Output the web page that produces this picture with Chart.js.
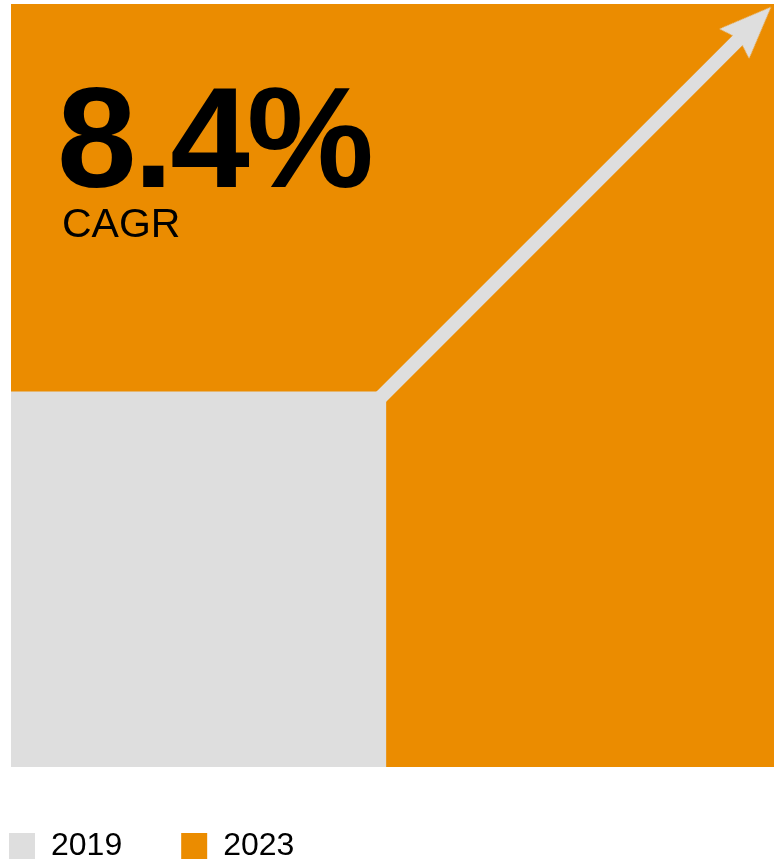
<!DOCTYPE html>
<html>
<head>
<meta charset="utf-8">
<script src="https://cdn.jsdelivr.net/npm/chart.js@4.4.1/dist/chart.umd.min.js"></script>
<style>
  body { margin: 0; background: #fff; }
  #wrap { width: 774px; height: 865px; }
</style>
</head>
<body>
<div id="wrap"><canvas id="myChart" width="774" height="865"></canvas></div>
<script>
// Data
const years = ['2019', '2023'];
const squareSide = [49.2, 100];          // side of each square, 2023 = 100
const colours = ['#dedede', '#eb8c00'];
const arrowFrom = [48, 48];
const arrowTo = [97.2, 97.2];
const cagrValue = '8.4%';
const cagrLabel = 'CAGR';

const fontFamily = '"Liberation Sans", Arial, Helvetica, sans-serif';

// arrow head drawn once, used as point style
function makeArrowHead() {
  const c = document.createElement('canvas');
  c.width = 42;
  c.height = 52;
  const g = c.getContext('2d');
  g.fillStyle = colours[0];
  g.beginPath();
  g.moveTo(21, 0);
  g.lineTo(42, 52);
  g.lineTo(21, 45);
  g.lineTo(0, 52);
  g.closePath();
  g.fill();
  return c;
}
const arrowHead = makeArrowHead();

const squareSets = years.map(function (year, i) {
  const s = squareSide[i];
  return {
    label: year,
    data: [{x: 0, y: s}, {x: s, y: s}],
    backgroundColor: colours[i],
    borderColor: colours[i],
    borderWidth: 0,
    pointRadius: 0,
    fill: 'origin',
    order: i + 1
  };
});

const arrowSet = {
  label: 'arrow',
  data: [{x: arrowFrom[0], y: arrowFrom[1]}, {x: arrowTo[0], y: arrowTo[1]}],
  borderColor: colours[0],
  backgroundColor: colours[0],
  borderWidth: 14,
  borderCapStyle: 'butt',
  pointRadius: [0, 20],
  pointStyle: ['circle', arrowHead],
  pointRotation: 45,
  fill: false,
  clip: false,
  order: 0
};

const overlay = {
  id: 'overlay',
  afterLayout(chart) {
    // first legend item flush with the plot's left edge
    chart.legend.left -= 61;
    chart.legend.top += 4;
  },
  afterDatasetsDraw(chart) {
    const ctx = chart.ctx;
    const area = chart.chartArea;
    ctx.save();
    ctx.fillStyle = '#000';
    ctx.textBaseline = 'alphabetic';
    ctx.textAlign = 'left';
    ctx.font = 'bold 143px ' + fontFamily;
    ctx.letterSpacing = '-3px';
    ctx.fillText(cagrValue, area.left + 46, area.top + 183);
    ctx.letterSpacing = '0px';
    ctx.font = '41px ' + fontFamily;
    ctx.fillText(cagrLabel, area.left + 51, area.top + 233);
    ctx.restore();
  }
};

const config = {
  type: 'line',
  data: {
    datasets: squareSets.concat([arrowSet])
  },
  options: {
    responsive: false,
    animation: false,
    events: [],
    layout: {
      autoPadding: false,
      padding: {left: 11, top: 4, right: 0, bottom: 0}
    },
    scales: {
      x: {type: 'linear', min: 0, max: 100, display: false},
      y: {type: 'linear', min: 0, max: 100, display: false}
    },
    plugins: {
      tooltip: {enabled: false},
      legend: {
        position: 'bottom',
        align: 'start',
        maxHeight: 98,
        labels: {
          boxWidth: 26,
          boxHeight: 26,
          padding: 59,
          color: '#000',
          font: {family: fontFamily, size: 32},
          filter: function (item) { return item.datasetIndex < years.length; }
        }
      }
    }
  },
  plugins: [overlay]
};

var myChart = new Chart(document.getElementById('myChart'), config);
</script>
</body>
</html>
